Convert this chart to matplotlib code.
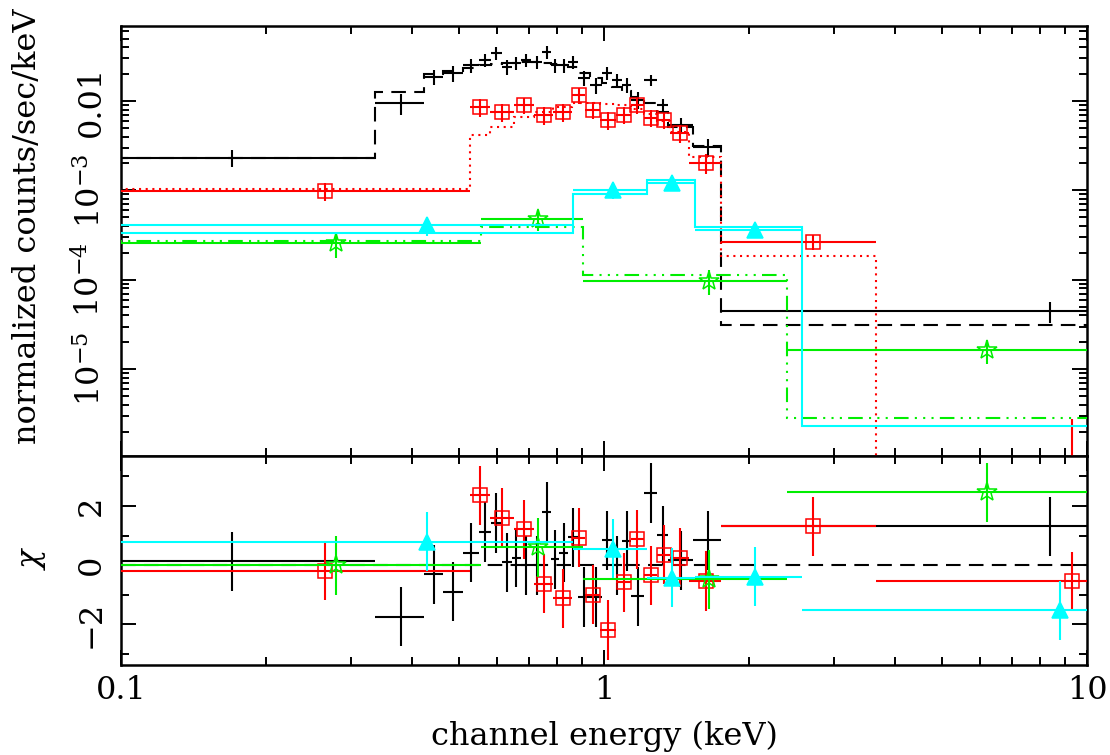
import numpy as np
import matplotlib
matplotlib.use("Agg")
import matplotlib.pyplot as plt
from matplotlib.ticker import FixedLocator, NullFormatter, FixedFormatter

# ---------------- data (energies in keV, fluxes in counts/s/keV) ----------------
# dataset 1 (black crosses, dashed model)
blk_edges = [0.0044, 0.335, 0.424, 0.465, 0.51, 0.55, 0.583, 0.615, 0.644, 0.672, 0.705,
             0.745, 0.777, 0.807, 0.842, 0.884, 0.935, 0.99, 1.04, 1.09, 1.14, 1.21, 1.29,
             1.36, 1.53, 1.75, 15.0]
blk_data = [2.31e-3, 9.5e-3, 0.0185, 0.0205, 0.0252, 0.0287, 0.0344, 0.0240, 0.0266, 0.0287,
            0.0273, 0.0353, 0.0252, 0.0252, 0.0273, 0.0181, 0.0151, 0.0205, 0.0172, 0.0151,
            0.0103, 0.0172, 0.0090, 0.00539, 0.00306, 4.5e-5]
blk_err = [5e-4, 2.6e-3, 3.5e-3, 4e-3, 4.5e-3, 5e-3, 5.5e-3, 4.5e-3, 4.5e-3, 5e-3,
           4.5e-3, 5.5e-3, 4.5e-3, 4.5e-3, 4.5e-3, 3.5e-3, 3e-3, 3.5e-3, 3e-3, 2.8e-3,
           2.2e-3, 2.5e-3, 1.5e-3, 1.0e-3, 7e-4, 1.2e-5]
blk_model = [2.28e-3, 0.0126, 0.0200, 0.0215, 0.0235, 0.0250, 0.0260, 0.0265, 0.0268, 0.0270,
             0.0270, 0.0268, 0.0262, 0.0255, 0.0240, 0.0205, 0.0180, 0.0160, 0.0145, 0.0130,
             0.0110, 0.0095, 0.0075, 0.0051, 0.0031, 3.1e-5]
blk_chi = [0.13, -1.74, -0.3, -0.9, 0.42, 1.12, 1.43, 0.1, 0.25, 0.0, 0.0, 1.8, 0.2, 0.43,
           0.95, -1.07, -1.07, 0.84, 0.0, 0.82, -1.05, 2.44, 1.01, 0.17, 0.84, 1.31]

# dataset 2 (red squares, dotted model)
red_edges = [0.001, 0.527, 0.58, 0.65, 0.715, 0.785, 0.86, 0.915, 0.98, 1.06, 1.135, 1.21,
             1.29, 1.37, 1.5, 1.75, 3.66, 14.94]
red_data = [9.9e-4, 8.57e-3, 7.54e-3, 9.02e-3, 6.98e-3, 7.54e-3, 0.0117, 7.93e-3, 6.13e-3,
            6.98e-3, 9.02e-3, 6.46e-3, 6.13e-3, 4.39e-3, 2.03e-3, 2.65e-4, 3e-7]
red_err = [2.2e-4, 1.9e-3, 1.7e-3, 1.9e-3, 1.6e-3, 1.7e-3, 2.4e-3, 1.7e-3, 1.4e-3,
           1.5e-3, 1.8e-3, 1.4e-3, 1.3e-3, 1.0e-3, 5e-4, 5e-5, 2.5e-6]
red_model = [1.03e-3, 4.17e-3, 5.1e-3, 6.6e-3, 7.5e-3, 8.6e-3, 9.4e-3, 9.4e-3, 9.3e-3,
             9.0e-3, 8.2e-3, 7.2e-3, 6.0e-3, 4.5e-3, 2.37e-3, 1.86e-4, 3e-7]
red_chi = [-0.19, 2.36, 1.61, 1.21, -0.62, -1.12, 0.93, -1.0, -2.19, -0.58, 0.88, -0.34,
           0.36, 0.26, -0.53, 1.31, -0.54]

# dataset 3 (green stars, dash-dot-dot-dot model)
grn_edges = [0.002, 0.556, 0.905, 2.39, 10.0]
grn_data = [2.6e-4, 4.8e-4, 9.8e-5, 1.64e-5]
grn_err = [8.5e-5, 1.3e-4, 3e-5, 5e-6]
grn_model = [2.7e-4, 3.9e-4, 1.12e-4, 2.83e-6]
grn_chi = [0.0, 0.6, -0.47, 2.47]

# dataset 4 (cyan triangles, solid model)
cyn_edges = [0.001, 0.861, 1.225, 1.54, 2.57, 15.0]
cyn_data = [4.1e-4, 1.0e-3, 1.2e-3, 3.63e-4, 3e-7]
cyn_err = [1.0e-4, 2.0e-4, 2.2e-4, 7e-5, 5e-7]
cyn_model = [3.37e-4, 9.1e-4, 1.31e-3, 3.9e-4, 2.3e-6]
cyn_chi = [0.79, 0.56, -0.42, -0.39, -1.52]

# ---------------- style ----------------
plt.rcParams['font.family'] = ['DejaVu Serif']
plt.rcParams['mathtext.fontset'] = 'dejavuserif'
plt.rcParams['font.size'] = 23

W, H = 1110, 755
fig = plt.figure(figsize=(W / 100, H / 100), dpi=100)
L, R, T, MID, B = 121, 1087, 26, 456, 665
ax1 = fig.add_axes([L / W, (H - MID) / H, (R - L) / W, (MID - T) / H])
ax2 = fig.add_axes([L / W, (H - B) / H, (R - L) / W, (B - MID) / H], sharex=ax1)

datasets = [
    dict(edges=blk_edges, data=blk_data, err=blk_err, model=blk_model, chi=blk_chi,
         color='black', marker='none', ms=0, mfc='none', mls=(0, (7, 4)), zm=2),
    dict(edges=red_edges, data=red_data, err=red_err, model=red_model, chi=red_chi,
         color='#ff0000', marker='s', ms=9.5, mfc='none', mls=(0, (1, 2.2)), zm=3),
    dict(edges=grn_edges, data=grn_data, err=grn_err, model=grn_model, chi=grn_chi,
         color='#00ee00', marker='*', ms=15, mfc='none', mls=(0, (7, 3, 1, 3, 1, 3, 1, 3)), zm=4),
    dict(edges=cyn_edges, data=cyn_data, err=cyn_err, model=cyn_model, chi=cyn_chi,
         color='#00ffff', marker='^', ms=11, mfc='#00ffff', mls='-', zm=5),
]

lw = 1.5
for d in datasets:
    e = np.array(d['edges'])
    lo, hi = e[:-1], e[1:]
    cen = (lo + hi) / 2
    xerr = [cen - lo, hi - cen]
    c = d['color']
    fmt = 'none' if d['marker'] == 'none' else d['marker']
    kw = dict(fmt=fmt, color=c, ecolor=c, elinewidth=lw, capsize=0,
              markersize=d['ms'], markerfacecolor=d['mfc'], markeredgecolor=c,
              markeredgewidth=1.1, zorder=d['zm'])
    ax1.errorbar(cen, d['data'], xerr=xerr, yerr=d['err'], **kw)
    ax1.stairs(d['model'], e, baseline=None, color=c, lw=lw, linestyle=d['mls'],
               zorder=d['zm'])
    ax2.errorbar(cen, d['chi'], xerr=xerr, yerr=np.ones(len(cen)), **kw)

ax2.axhline(0, color='black', lw=lw, linestyle=(0, (7, 4)), zorder=1)

# ---------------- axes ----------------
for ax in (ax1, ax2):
    ax.set_xscale('log')
    ax.set_xlim(0.1, 10)
    for s in ax.spines.values():
        s.set_linewidth(1.8)
    ax.tick_params(which='both', direction='in', top=True, right=True, width=1.4)
    ax.tick_params(which='major', length=11)
    ax.tick_params(which='minor', length=5.5)

ax1.set_yscale('log')
ax1.set_ylim(1.07e-6, 0.069)
ax1.yaxis.set_major_locator(FixedLocator([1e-5, 1e-4, 1e-3, 1e-2]))
ax1.yaxis.set_major_formatter(FixedFormatter(
    [r'$10^{-5}$', r'$10^{-4}$', r'$10^{-3}$', '0.01']))
minors = [m * 10.0 ** k for k in range(-7, -1) for m in range(2, 10)]
ax1.yaxis.set_minor_locator(FixedLocator(minors))
ax1.yaxis.set_minor_formatter(NullFormatter())
ax1.tick_params(axis='x', which='both', labelbottom=False)

ax2.set_ylim(-3.37, 3.69)
ax2.yaxis.set_major_locator(FixedLocator([-2, 0, 2]))
ax2.yaxis.set_major_formatter(FixedFormatter(['\u22122', '0', '2']))
ax2.yaxis.set_minor_locator(FixedLocator([-3, -1, 1, 3]))
ax2.xaxis.set_major_locator(FixedLocator([0.1, 1, 10]))
ax2.xaxis.set_major_formatter(FixedFormatter(['0.1', '1', '10']))
ax2.xaxis.set_minor_locator(FixedLocator([m * 10.0 ** k for k in (-1, 0) for m in range(2, 10)]))
ax2.xaxis.set_minor_formatter(NullFormatter())
ax2.tick_params(axis='x', which='major', pad=7)

for ax in (ax1, ax2):
    for t in ax.get_yticklabels():
        t.set_rotation(90)
        t.set_va('center')
        t.set_ha('right')
    ax.tick_params(axis='y', pad=10)

fig.text(28 / W, 1 - 226 / H, 'normalized counts/sec/keV', rotation=90,
         ha='center', va='center')
fig.text(32 / W, 1 - 558 / H, r'$\chi$', rotation=90, ha='center', va='center')
fig.text((L + R) / 2 / W, 1 - 736 / H, 'channel energy (keV)', ha='center', va='center')

fig.savefig('out.png', dpi=100)
